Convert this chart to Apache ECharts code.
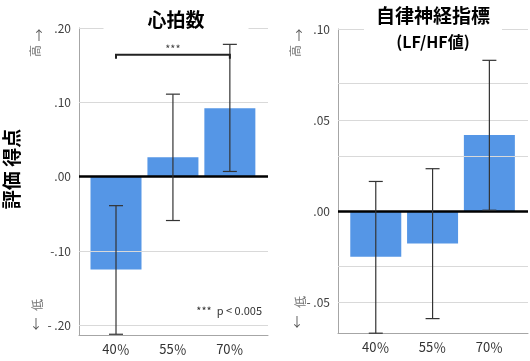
<!DOCTYPE html>
<html>
<head>
<meta charset="utf-8">
<script src="https://cdn.jsdelivr.net/npm/echarts@6/dist/echarts.min.js"></script>
<style>
html,body{margin:0;padding:0;background:#fff;}
#c{width:530px;height:361px;}
</style>
</head>
<body>
<div id="c"></div>
<script>
// ---- data ----
const categories = ['40％', '55％', '70％'];
const catIndex = [0, 1, 2];

const hrValues   = [-0.125, 0.026, 0.092];
const hrErrLow   = [-0.212, -0.059, 0.007];
const hrErrHigh  = [-0.039, 0.111, 0.178];
const hrTicks      = [0.2, 0.1, 0, -0.1, -0.2];
const hrTickLabels = ['.20', '.10', '.00', '-.10', '- .20'];
const hrGridLines  = [0.2, 0.1, -0.1, -0.2];
const hrSig = [[0, 2, 0.164]];

const lfValues   = [-0.0251, -0.0177, 0.0418];
const lfErrLow   = [-0.067, -0.059, 0.0005];
const lfErrHigh  = [0.0163, 0.0233, 0.0828];
const lfTicks      = [0.1, 0.05, 0, -0.05];
const lfTickLabels = ['.10', '.05', '.00', '- .05'];
const lfGridLines  = [0.1, 0.075, 0.05, 0.025, -0.025, -0.05];

// ---- build ----
const FONT = '"Noto Sans CJK JP", "Noto Sans", sans-serif';
const BAR = '#5596e6';
const AXIS = '#a6a6a6';
const GRIDC = '#d9d9d9';

function pick(ticks, labels, v) {
  let best = 0, bd = Infinity;
  ticks.forEach((t, i) => { const d = Math.abs(t - v); if (d < bd) { bd = d; best = i; } });
  return bd < 1e-6 ? labels[best] : '';
}

function xAxisDef(gi, min, max) {
  return {
    type: 'value', gridIndex: gi, min: min, max: max,
    axisLine: { show: true, onZero: false, lineStyle: { color: AXIS, width: 1 } },
    axisTick: { show: false },
    splitLine: { show: false },
    axisLabel: {
      customValues: catIndex,
      formatter: v => categories[Math.round(v)],
      color: '#333', fontSize: 13, fontFamily: FONT, margin: 8
    }
  };
}
function yAxisDef(gi, min, max, ticks, labels) {
  return {
    type: 'value', gridIndex: gi, min: min, max: max,
    axisLine: { show: true, onZero: false, lineStyle: { color: AXIS, width: 1 } },
    axisTick: { show: false, customValues: ticks },
    splitLine: { show: false },
    axisLabel: {
      customValues: ticks,
      formatter: v => pick(ticks, labels, v),
      color: '#404040', fontSize: 12, fontFamily: FONT, margin: 8
    }
  };
}
function pairs(vals) { return vals.map((v, i) => [catIndex[i], v]); }
function errData(lo, hi) { return lo.map((l, i) => [catIndex[i], l, hi[i]]); }

function errorRender(params, api) {
  const x = api.value(0);
  const a = api.coord([x, api.value(2)]);
  const b = api.coord([x, api.value(1)]);
  const w = 7;
  const st = { stroke: '#333', lineWidth: 1.2 };
  return {
    type: 'group',
    children: [
      { type: 'line', shape: { x1: a[0], y1: a[1], x2: b[0], y2: b[1] }, style: st },
      { type: 'line', shape: { x1: a[0] - w, y1: a[1], x2: a[0] + w, y2: a[1] }, style: st },
      { type: 'line', shape: { x1: b[0] - w, y1: b[1], x2: b[0] + w, y2: b[1] }, style: st }
    ]
  };
}
function sigRender(params, api) {
  const p0 = api.coord([api.value(0), api.value(2)]);
  const p1 = api.coord([api.value(1), api.value(2)]);
  return {
    type: 'group',
    children: [
      { type: 'polyline', shape: { points: [[p0[0], p0[1] + 4], [p0[0], p0[1]], [p1[0], p1[1]], [p1[0], p1[1] + 4]] },
        style: { stroke: '#222', lineWidth: 2, fill: null } },
      { type: 'text', x: (p0[0] + p1[0]) / 2, y: p0[1] - 6,
        style: { text: '***', align: 'center', verticalAlign: 'middle', font: '11px ' + FONT, fill: '#444' } }
    ]
  };
}
function gridSeries(xi, yi, lines) {
  return {
    type: 'line', xAxisIndex: xi, yAxisIndex: yi, data: [], z: 0, silent: true,
    markLine: { silent: true, symbol: 'none', label: { show: false },
      lineStyle: { color: GRIDC, width: 1.2, type: 'solid' },
      data: lines.map(v => ({ yAxis: v })) }
  };
}
function zeroSeries(xi, yi) {
  return {
    type: 'line', xAxisIndex: xi, yAxisIndex: yi, data: [], z: 5, silent: true,
    markLine: { silent: true, symbol: 'none', label: { show: false },
      lineStyle: { color: '#000', width: 2.5, type: 'solid' },
      data: [{ yAxis: 0 }] }
  };
}

const chart = echarts.init(document.getElementById('c'), null, { renderer: 'canvas' });
chart.setOption({
  animation: false,
  backgroundColor: '#fff',
  grid: [
    { left: 79, top: 28, width: 189, height: 307 },
    { left: 338, top: 29, width: 190, height: 304 }
  ],
  xAxis: [ xAxisDef(0, -0.65, 2.67), xAxisDef(1, -0.665, 2.68) ],
  yAxis: [ yAxisDef(0, -0.213, 0.2, hrTicks, hrTickLabels), yAxisDef(1, -0.0669, 0.1, lfTicks, lfTickLabels) ],
  series: [
    gridSeries(0, 0, hrGridLines),
    gridSeries(1, 1, lfGridLines),
    { type: 'bar', xAxisIndex: 0, yAxisIndex: 0, data: pairs(hrValues), barWidth: 51, z: 2,
      itemStyle: { color: BAR } },
    { type: 'bar', xAxisIndex: 1, yAxisIndex: 1, data: pairs(lfValues), barWidth: 51, z: 2,
      itemStyle: { color: BAR } },
    zeroSeries(0, 0),
    zeroSeries(1, 1),
    { type: 'custom', xAxisIndex: 0, yAxisIndex: 0, data: errData(hrErrLow, hrErrHigh), renderItem: errorRender, z: 6, silent: true },
    { type: 'custom', xAxisIndex: 1, yAxisIndex: 1, data: errData(lfErrLow, lfErrHigh), renderItem: errorRender, z: 6, silent: true },
    { type: 'custom', xAxisIndex: 0, yAxisIndex: 0, data: hrSig, renderItem: sigRender, z: 6, silent: true }
  ],
  graphic: [
    { type: 'text', z: 100, x: 176, y: 20,
      style: { text: '心拍数', align: 'center', verticalAlign: 'middle', font: 'bold 19px ' + FONT, fill: '#000',
        backgroundColor: '#fff', padding: [4, 44, 4, 44] } },
    { type: 'text', z: 100, x: 433, y: 28,
      style: { text: '{a|自律神経指標}\n{b|(LF/HF値)}', align: 'center', verticalAlign: 'middle', fill: '#000',
        backgroundColor: '#fff', padding: [2, 12, 2, 12],
        rich: { a: { font: 'bold 19px ' + FONT, lineHeight: 27, fill: '#000' }, b: { font: 'bold 16px ' + FONT, lineHeight: 25, fill: '#000' } } } },
    { type: 'text', z: 100, x: 12, y: 169, rotation: Math.PI / 2,
      style: { text: '評価 得点', align: 'center', verticalAlign: 'middle', font: 'bold 19px ' + FONT, fill: '#000' } },
    // left arrows
    { type: 'text', z: 100, x: 39, y: 35, style: { text: '↑', align: 'center', verticalAlign: 'middle', font: '13px ' + FONT, fill: '#555' } },
    { type: 'text', z: 100, x: 35, y: 51, rotation: Math.PI / 2, style: { text: '高', align: 'center', verticalAlign: 'middle', font: '12px ' + FONT, fill: '#777' } },
    { type: 'text', z: 100, x: 37, y: 305, rotation: Math.PI / 2, style: { text: '低', align: 'center', verticalAlign: 'middle', font: '12px ' + FONT, fill: '#777' } },
    { type: 'text', z: 100, x: 36, y: 323, style: { text: '↓', align: 'center', verticalAlign: 'middle', font: '13px ' + FONT, fill: '#555' } },
    // right arrows
    { type: 'text', z: 100, x: 299, y: 35, style: { text: '↑', align: 'center', verticalAlign: 'middle', font: '13px ' + FONT, fill: '#555' } },
    { type: 'text', z: 100, x: 295, y: 51, rotation: Math.PI / 2, style: { text: '高', align: 'center', verticalAlign: 'middle', font: '12px ' + FONT, fill: '#777' } },
    { type: 'text', z: 100, x: 300, y: 302, rotation: Math.PI / 2, style: { text: '低', align: 'center', verticalAlign: 'middle', font: '12px ' + FONT, fill: '#777' } },
    { type: 'text', z: 100, x: 297, y: 321, style: { text: '↓', align: 'center', verticalAlign: 'middle', font: '13px ' + FONT, fill: '#555' } },
    // note
    { type: 'text', z: 100, x: 262, y: 311, style: { text: '***  p < 0.005', align: 'right', verticalAlign: 'middle', font: '11px ' + FONT, fill: '#333' } }
  ]
});
</script>
</body>
</html>
